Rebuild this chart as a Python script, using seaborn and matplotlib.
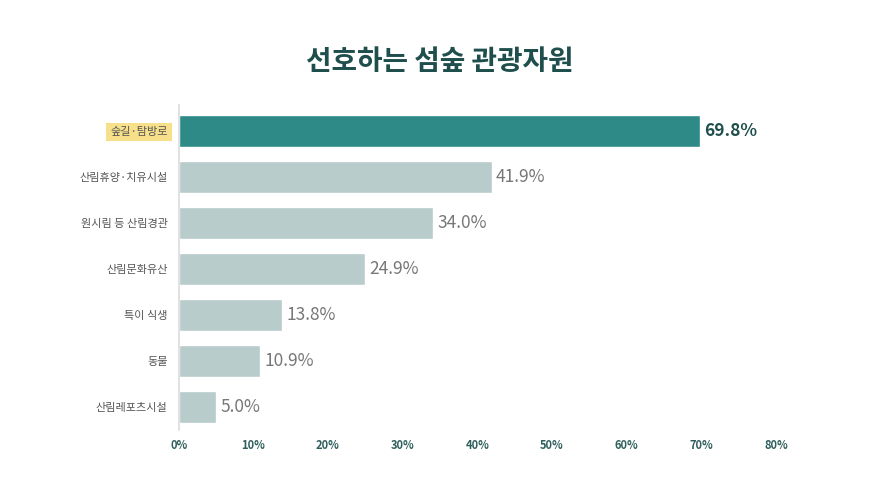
import matplotlib
matplotlib.use('Agg')
import matplotlib.pyplot as plt
import seaborn as sns
import pandas as pd

categories = ['숲길·탐방로', '산림휴양·치유시설', '원시림 등 산림경관', '산림문화유산', '특이 식생', '동물', '산림레포츠시설']
values = [69.8, 41.9, 34.0, 24.9, 13.8, 10.9, 5.0]
xticks = [0, 10, 20, 30, 40, 50, 60, 70, 80]

sns.set_theme(style='white')
plt.rcParams['font.family'] = ['Noto Sans CJK KR', 'DejaVu Sans']

df = pd.DataFrame({'cat': categories, 'val': values})
colors = ['#2e8a87'] + ['#b8cccb'] * (len(values) - 1)

fig = plt.figure(figsize=(8.8, 4.95), dpi=100)
ax = fig.add_axes([0.203, 0.131, 0.679, 0.657])
sns.barplot(data=df, x='val', y='cat', hue='cat', palette=colors, legend=False,
            width=0.7, saturation=1, ax=ax)

ax.set_xlim(0, 80)
ax.set_ylim(6.5, -0.565)
ax.set_xticks(xticks)
ax.set_xticklabels([f'{t}%' for t in xticks], fontsize=8, color='#2f5f5c', fontweight='bold')
ax.set_xlabel('')
ax.set_ylabel('')
ax.tick_params(axis='y', length=0, pad=8)
ax.tick_params(axis='x', length=3, color='#cccccc')
for i, lab in enumerate(ax.get_yticklabels()):
    lab.set_fontsize(8)
    lab.set_color('#555555')
    if i == 0:
        lab.set_bbox(dict(facecolor='#f8df8a', edgecolor='none', boxstyle='square,pad=0.4'))
for s in ['top', 'right', 'bottom']:
    ax.spines[s].set_visible(False)
ax.spines['left'].set_color('#dddddd')

for i, v in enumerate(values):
    ax.text(v + 0.6, i, f'{v:.1f}%', va='center', ha='left', fontsize=12.5,
            fontweight='bold' if i == 0 else 'medium',
            color='#1f4f4c' if i == 0 else '#777777')

fig.text(0.5, 0.875, '선호하는 섬숲 관광자원', ha='center', va='center',
         fontsize=20, fontweight='bold', color='#1f4f4c')
fig.savefig('out.png', dpi=100)
